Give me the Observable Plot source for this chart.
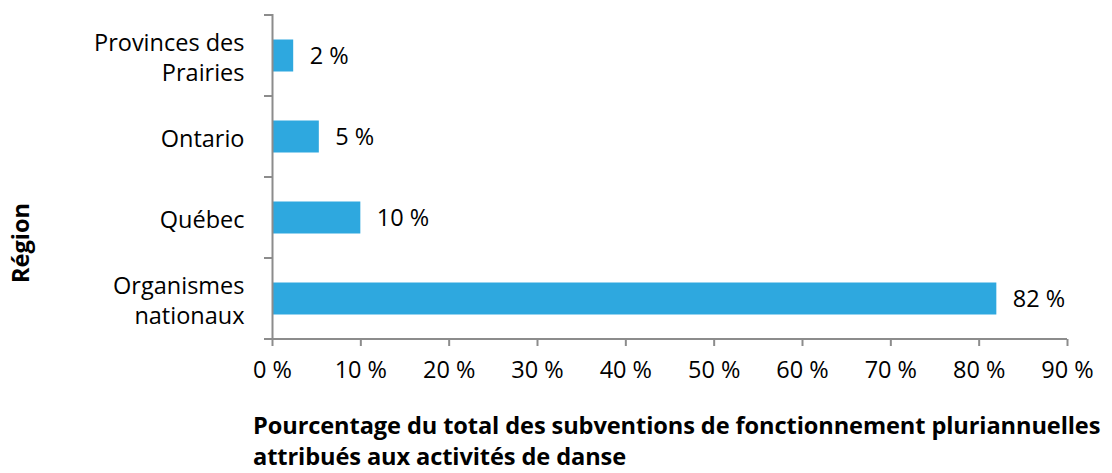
<!DOCTYPE html>
<html><head><meta charset="utf-8">
<script src="https://cdn.jsdelivr.net/npm/d3@7"></script>
<script src="https://cdn.jsdelivr.net/npm/@observablehq/plot@0.6"></script>
<style>
body{margin:0;background:#fff;}
#wrap{position:relative;width:1112px;height:473px;font-family:"Open Sans",sans-serif;color:#000;background:#fff;}
.xtitle{position:absolute;left:253px;font-weight:bold;font-size:23.6px;line-height:24px;white-space:nowrap;letter-spacing:-0.1px;}
#ytitle{position:absolute;left:20px;top:243px;font-weight:bold;font-size:23.6px;transform:translate(-50%,-50%) rotate(-90deg);white-space:nowrap;}
</style></head><body><div id="wrap"></div>
<script>
const regions = ["Provinces des\nPrairies", "Ontario", "Québec", "Organismes\nnationaux"];
const shares = [2.4, 5.3, 10.0, 82.0];
const xTicks = [0, 10, 20, 30, 40, 50, 60, 70, 80, 90];
const xTitle = ["Pourcentage du total des subventions de fonctionnement pluriannuelles", "attribués aux activités de danse"];
const yTitle = "Région";

const data = regions.map((r, i) => ({region: r, share: shares[i]}));
const axisGray = "#8c8c8c";
const barColor = "#2ea8df";
const fs = 23.5;

const chart = Plot.plot({
  width: 1112, height: 400,
  marginTop: 14, marginBottom: 61, marginLeft: 272, marginRight: 45,
  style: {fontFamily: "'Open Sans', sans-serif", fontSize: fs + "px", color: "#000", background: "#fff"},
  x: {domain: [0, 90], label: null},
  y: {domain: regions, padding: 0, label: null},
  marks: [
    Plot.barX(data, {x: "share", y: "region", fill: barColor, insetTop: 24.5, insetBottom: 24.5}),
    Plot.text(data, {x: "share", y: "region", text: d => Math.round(d.share) + " %", textAnchor: "start", dx: 16, fontSize: fs, fill: "#000"}),
    Plot.axisX({ticks: xTicks, tickSize: 7, tickPadding: 15, stroke: axisGray, strokeWidth: 2, fill: "#000", fontSize: fs, tickFormat: d => d + " %", label: null}),
    Plot.axisY({tickSize: 0, tickPadding: 28, lineHeight: 1.3, fill: "#000", fontSize: fs, label: null}),
    Plot.ruleX([0], {stroke: axisGray, strokeWidth: 2})
  ]
});

// y boundary ticks and x baseline, positioned from the plot's own scales
const ys = chart.scale("y"), xs = chart.scale("x");
const svg = d3.select(chart.tagName === "svg" ? chart : chart.querySelector("svg"));
const x0 = xs.apply(0);
const yBottom = d3.max(ys.range);
const bounds = ys.domain.map(d => ys.apply(d)).concat([ys.apply(ys.domain[ys.domain.length - 1]) + ys.bandwidth]);
const g = svg.append("g").attr("stroke", axisGray).attr("stroke-width", 2);
g.selectAll("line.b").data(bounds).join("line")
  .attr("x1", x0 - 8).attr("x2", x0).attr("y1", d => d).attr("y2", d => d);
g.append("line").attr("x1", x0 - 8).attr("x2", xs.apply(90)).attr("y1", yBottom).attr("y2", yBottom);

const wrap = document.getElementById("wrap");
wrap.appendChild(chart);
xTitle.forEach((line, i) => {
  const d = document.createElement("div");
  d.className = "xtitle";
  d.style.top = (413 + i * 31) + "px";
  d.textContent = line;
  wrap.appendChild(d);
});
const yt = document.createElement("div");
yt.id = "ytitle";
yt.textContent = yTitle;
wrap.appendChild(yt);
</script></body></html>
